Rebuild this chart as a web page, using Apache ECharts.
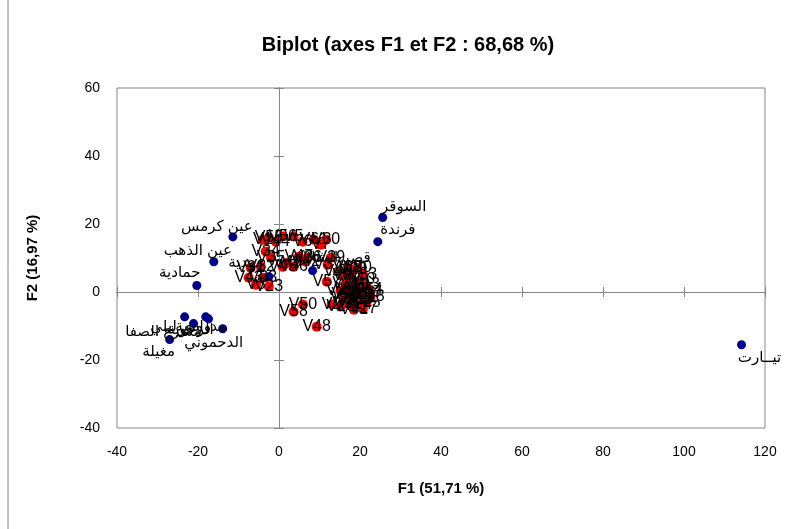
<!DOCTYPE html>
<html>
<head>
<meta charset="utf-8">
<script src="https://cdn.jsdelivr.net/npm/echarts@6/dist/echarts.min.js"></script>
<style>html,body{margin:0;padding:0;background:#fff}#c{width:799px;height:529px}</style>
</head>
<body>
<div id="c"></div>
<script>
// Observations (blue)
const obsNames = ['السوقر','فرندة','عين كرمس','عين الذهب','حمادية','قصر الشلالة','مهدية','تيــارت','وادي ليلي','مشرع الصفا','مدروسة','الرحوية','الدحموني','مغيلة'];
const obsF1 = [25.6, 24.4, -11.4, -16.1, -20.3, 8.3, -2.5, 114.2, -23.3, -21.1, -18.1, -17.4, -13.9, -27.0];
const obsF2 = [21.9, 14.8, 16.2, 8.9, 1.9, 6.3, 4.5, -15.5, -7.3, -9.3, -7.3, -7.9, -10.8, -14.0];

// Variables (red)
const varNames = ['V55','V56','V5','V6','V61','V7','V1','V44','V34','V35','V47','V42','V45','V46','V49','V31','V32','V43','V33','V23','V3','V36','V37','V40','V38','V20','V2','V50','V58','V48','V8','V9','V10','V11','V12','V13','V14','V15','V16','V17','V18','V19','V21','V22','V24','V25','V26','V41','V27','V57','V28','V29','V30','V39','V51','V52','V53','V54','V59','V60','V4'];
const varF1 = [-2.5,0.9,3.6,5.8,8.6,10.3,-4.0,-0.8,-3.3,-2.0,4.9,6.6,0.9,3.6,2.1,-7.0,-4.5,-7.5,-4.0,-2.5,-5.7,7.1,12.0,14.5,16.9,19.4,13.0,5.9,3.6,9.3,15.7,17.7,20.2,16.5,18.9,21.4,15.2,17.2,19.7,21.9,16.1,18.2,20.7,17.0,19.4,21.6,15.2,18.5,20.7,11.8,22.6,18.3,11.6,12.8,18.9,16.5,20.7,22.1,17.7,19.7,16.7];
const varF2 = [16.0,16.3,16.3,14.8,15.4,13.9,15.4,14.8,11.9,10.1,10.4,8.9,7.4,7.4,8.6,7.1,7.4,4.2,4.2,1.6,2.1,10.1,8.0,6.0,7.1,7.1,-3.7,-3.7,-5.8,-10.2,4.8,4.2,3.6,2.4,1.9,2.1,0.4,0.1,0.1,-0.2,-1.7,-2.0,-1.7,-3.4,-3.7,-3.1,-4.3,-5.2,-4.9,3.0,-1.4,6.6,15.4,10.1,-0.8,-0.8,5.1,0.7,0.7,-2.3,-2.6];

// Axis ticks
const xTicks = {min: -40, max: 120, interval: 20};
const yTicks = {min: -40, max: 60, interval: 20};

// label placement (style): pixel offset of label centre from the point
const obsLabelOffset = {
  'السوقر':[21,-11], 'فرندة':[20,-12], 'عين كرمس':[-16,-10], 'عين الذهب':[-16,-11],
  'حمادية':[-17,-13], 'قصر الشلالة':[20,-13], 'مهدية':[-23,-14], 'تيــارت':[18,13],
  'وادي ليلي':[-4,10], 'مشرع الصفا':[-30,8], 'مدروسة':[-5,10], 'الرحوية':[-18,11],
  'الدحموني':[-9,14], 'مغيلة':[-11,12]
};

const gridColor = '#868686';
const font = 'Liberation Sans, Arial, DejaVu Sans, sans-serif';
const obsSize = 9;

const obsData = obsNames.map((n,i)=>{
  const o = obsLabelOffset[n] || [0,0];
  return {name:n, value:[obsF1[i], obsF2[i]],
    label:{position:[obsSize/2 + o[0], obsSize/2 + o[1]], align:'center', verticalAlign:'middle'}};
});
const varData = varNames.map((n,i)=>({name:n, value:[varF1[i], varF2[i]]}));

function zeroX(inside){return {type:'value', min:xTicks.min, max:xTicks.max, interval:xTicks.interval,
  axisLine:{show:true, onZero:true, lineStyle:{color:gridColor, width:1}},
  axisTick:{show:true, inside:inside, length:5, lineStyle:{color:gridColor}},
  axisLabel:{show:false}, splitLine:{show:false}};}
function zeroY(inside){return {type:'value', min:yTicks.min, max:yTicks.max, interval:yTicks.interval,
  axisLine:{show:true, onZero:true, lineStyle:{color:gridColor, width:1}},
  axisTick:{show:true, inside:inside, length:5, lineStyle:{color:gridColor}},
  axisLabel:{show:false}, splitLine:{show:false}};}

const chart = echarts.init(document.getElementById('c'), null, {renderer:'canvas'});
chart.setOption({
  animation:false,
  backgroundColor:'#fff',
  title:{text:'Biplot (axes F1 et F2 : 68,68 %)', left:403, top:30, textAlign:'center',
    textStyle:{fontFamily:font, fontWeight:'bold', fontSize:20, color:'#000'}},
  graphic:[{type:'rect', shape:{x:8, y:-10, width:820, height:560}, style:{fill:'none', stroke:gridColor, lineWidth:1}, silent:true}],
  grid:{left:117, right:34, top:88, bottom:101, show:true, borderColor:gridColor, borderWidth:1, backgroundColor:'transparent'},
  xAxis:[
    {type:'value', min:xTicks.min, max:xTicks.max, interval:xTicks.interval, position:'bottom',
     axisLine:{show:false, onZero:false}, axisTick:{show:false}, splitLine:{show:false},
     axisLabel:{margin:17, fontFamily:font, fontSize:14, color:'#000'},
     name:'F1 (51,71 %)', nameLocation:'middle', nameGap:53,
     nameTextStyle:{fontFamily:font, fontWeight:'bold', fontSize:15, color:'#000'}},
    zeroX(false), zeroX(true)
  ],
  yAxis:[
    {type:'value', min:yTicks.min, max:yTicks.max, interval:yTicks.interval, position:'left',
     axisLine:{show:false, onZero:false}, axisTick:{show:false}, splitLine:{show:false},
     axisLabel:{margin:17, fontFamily:font, fontSize:14, color:'#000'},
     name:'F2 (16,97 %)', nameLocation:'middle', nameGap:77, nameRotate:90,
     nameTextStyle:{fontFamily:font, fontWeight:'bold', fontSize:15, color:'#000'}},
    zeroY(false), zeroY(true)
  ],
  series:[
    {type:'scatter', name:'Variables', data:varData, xAxisIndex:0, yAxisIndex:0,
     symbolSize:10, itemStyle:{color:'#ff0000', opacity:1},
     label:{show:true, position:'inside', offset:[0,2], formatter:'{b}', fontFamily:font, fontSize:16, color:'#000'},
     labelLayout:{hideOverlap:false}},
    {type:'scatter', name:'Observations', data:obsData, xAxisIndex:0, yAxisIndex:0,
     symbolSize:obsSize, itemStyle:{color:'#00008b', opacity:1},
     label:{show:true, formatter:'{b}', fontFamily:font, fontSize:15, color:'#000'},
     labelLayout:{hideOverlap:false}}
  ]
});
</script>
</body>
</html>
